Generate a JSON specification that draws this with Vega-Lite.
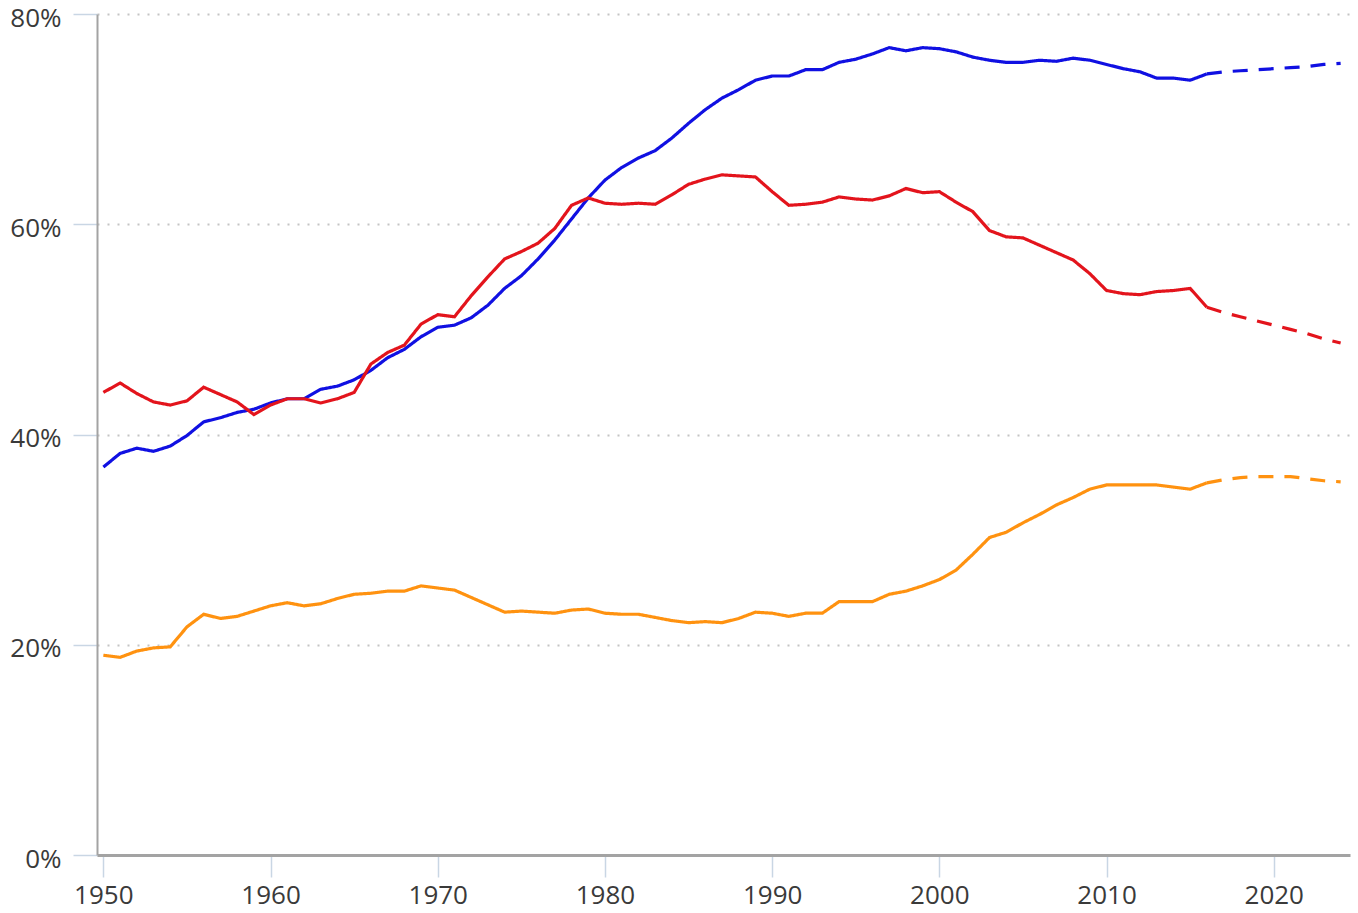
{
  "$schema": "https://vega.github.io/schema/vega-lite/v6.json",
  "width": 1253,
  "height": 841,
  "autosize": {"type": "none"},
  "padding": {"left": 97, "top": 14, "right": 8, "bottom": 58},
  "background": "white",
  "config": {
    "view": {"stroke": null},
    "font": "Open Sans",
    "axis": {"labelFont": "Open Sans", "labelFontSize": 26, "labelColor": "#3a3a3a"}
  },
  "data": {
    "values": [
      {"year": 1950, "part": "actual", "blue": 36.9, "red": 44.0, "orange": 19.0},
      {"year": 1951, "part": "actual", "blue": 38.2, "red": 44.9, "orange": 18.8},
      {"year": 1952, "part": "actual", "blue": 38.7, "red": 43.9, "orange": 19.4},
      {"year": 1953, "part": "actual", "blue": 38.4, "red": 43.1, "orange": 19.7},
      {"year": 1954, "part": "actual", "blue": 38.9, "red": 42.8, "orange": 19.8},
      {"year": 1955, "part": "actual", "blue": 39.9, "red": 43.2, "orange": 21.7},
      {"year": 1956, "part": "actual", "blue": 41.2, "red": 44.5, "orange": 22.9},
      {"year": 1957, "part": "actual", "blue": 41.6, "red": 43.8, "orange": 22.5},
      {"year": 1958, "part": "actual", "blue": 42.1, "red": 43.1, "orange": 22.7},
      {"year": 1959, "part": "actual", "blue": 42.4, "red": 41.9, "orange": 23.2},
      {"year": 1960, "part": "actual", "blue": 43.0, "red": 42.8, "orange": 23.7},
      {"year": 1961, "part": "actual", "blue": 43.4, "red": 43.4, "orange": 24.0},
      {"year": 1962, "part": "actual", "blue": 43.4, "red": 43.4, "orange": 23.7},
      {"year": 1963, "part": "actual", "blue": 44.3, "red": 43.0, "orange": 23.9},
      {"year": 1964, "part": "actual", "blue": 44.6, "red": 43.4, "orange": 24.4},
      {"year": 1965, "part": "actual", "blue": 45.2, "red": 44.0, "orange": 24.8},
      {"year": 1966, "part": "actual", "blue": 46.1, "red": 46.7, "orange": 24.9},
      {"year": 1967, "part": "actual", "blue": 47.3, "red": 47.8, "orange": 25.1},
      {"year": 1968, "part": "actual", "blue": 48.1, "red": 48.5, "orange": 25.1},
      {"year": 1969, "part": "actual", "blue": 49.3, "red": 50.5, "orange": 25.6},
      {"year": 1970, "part": "actual", "blue": 50.2, "red": 51.4, "orange": 25.4},
      {"year": 1971, "part": "actual", "blue": 50.4, "red": 51.2, "orange": 25.2},
      {"year": 1972, "part": "actual", "blue": 51.1, "red": 53.2, "orange": 24.5},
      {"year": 1973, "part": "actual", "blue": 52.3, "red": 55.0, "orange": 23.8},
      {"year": 1974, "part": "actual", "blue": 53.9, "red": 56.7, "orange": 23.1},
      {"year": 1975, "part": "actual", "blue": 55.1, "red": 57.4, "orange": 23.2},
      {"year": 1976, "part": "actual", "blue": 56.7, "red": 58.2, "orange": 23.1},
      {"year": 1977, "part": "actual", "blue": 58.5, "red": 59.6, "orange": 23.0},
      {"year": 1978, "part": "actual", "blue": 60.5, "red": 61.8, "orange": 23.3},
      {"year": 1979, "part": "actual", "blue": 62.5, "red": 62.5, "orange": 23.4},
      {"year": 1980, "part": "actual", "blue": 64.2, "red": 62.0, "orange": 23.0},
      {"year": 1981, "part": "actual", "blue": 65.4, "red": 61.9, "orange": 22.9},
      {"year": 1982, "part": "actual", "blue": 66.3, "red": 62.0, "orange": 22.9},
      {"year": 1983, "part": "actual", "blue": 67.0, "red": 61.9, "orange": 22.6},
      {"year": 1984, "part": "actual", "blue": 68.2, "red": 62.8, "orange": 22.3},
      {"year": 1985, "part": "actual", "blue": 69.6, "red": 63.8, "orange": 22.1},
      {"year": 1986, "part": "actual", "blue": 70.9, "red": 64.3, "orange": 22.2},
      {"year": 1987, "part": "actual", "blue": 72.0, "red": 64.7, "orange": 22.1},
      {"year": 1988, "part": "actual", "blue": 72.8, "red": 64.6, "orange": 22.5},
      {"year": 1989, "part": "actual", "blue": 73.7, "red": 64.5, "orange": 23.1},
      {"year": 1990, "part": "actual", "blue": 74.1, "red": 63.1, "orange": 23.0},
      {"year": 1991, "part": "actual", "blue": 74.1, "red": 61.8, "orange": 22.7},
      {"year": 1992, "part": "actual", "blue": 74.7, "red": 61.9, "orange": 23.0},
      {"year": 1993, "part": "actual", "blue": 74.7, "red": 62.1, "orange": 23.0},
      {"year": 1994, "part": "actual", "blue": 75.4, "red": 62.6, "orange": 24.1},
      {"year": 1995, "part": "actual", "blue": 75.7, "red": 62.4, "orange": 24.1},
      {"year": 1996, "part": "actual", "blue": 76.2, "red": 62.3, "orange": 24.1},
      {"year": 1997, "part": "actual", "blue": 76.8, "red": 62.7, "orange": 24.8},
      {"year": 1998, "part": "actual", "blue": 76.5, "red": 63.4, "orange": 25.1},
      {"year": 1999, "part": "actual", "blue": 76.8, "red": 63.0, "orange": 25.6},
      {"year": 2000, "part": "actual", "blue": 76.7, "red": 63.1, "orange": 26.2},
      {"year": 2001, "part": "actual", "blue": 76.4, "red": 62.1, "orange": 27.1},
      {"year": 2002, "part": "actual", "blue": 75.9, "red": 61.2, "orange": 28.6},
      {"year": 2003, "part": "actual", "blue": 75.6, "red": 59.4, "orange": 30.2},
      {"year": 2004, "part": "actual", "blue": 75.4, "red": 58.8, "orange": 30.7},
      {"year": 2005, "part": "actual", "blue": 75.4, "red": 58.7, "orange": 31.6},
      {"year": 2006, "part": "actual", "blue": 75.6, "red": 58.0, "orange": 32.4},
      {"year": 2007, "part": "actual", "blue": 75.5, "red": 57.3, "orange": 33.3},
      {"year": 2008, "part": "actual", "blue": 75.8, "red": 56.6, "orange": 34.0},
      {"year": 2009, "part": "actual", "blue": 75.6, "red": 55.3, "orange": 34.8},
      {"year": 2010, "part": "actual", "blue": 75.2, "red": 53.7, "orange": 35.2},
      {"year": 2011, "part": "actual", "blue": 74.8, "red": 53.4, "orange": 35.2},
      {"year": 2012, "part": "actual", "blue": 74.5, "red": 53.3, "orange": 35.2},
      {"year": 2013, "part": "actual", "blue": 73.9, "red": 53.6, "orange": 35.2},
      {"year": 2014, "part": "actual", "blue": 73.9, "red": 53.7, "orange": 35.0},
      {"year": 2015, "part": "actual", "blue": 73.7, "red": 53.9, "orange": 34.8},
      {"year": 2016, "part": "actual", "blue": 74.3, "red": 52.1, "orange": 35.4},
      {"year": 2016, "part": "projection", "blue": 74.3, "red": 52.1, "orange": 35.4},
      {"year": 2017, "part": "projection", "blue": 74.5, "red": 51.6, "orange": 35.7},
      {"year": 2018, "part": "projection", "blue": 74.6, "red": 51.2, "orange": 35.9},
      {"year": 2019, "part": "projection", "blue": 74.7, "red": 50.8, "orange": 36.0},
      {"year": 2020, "part": "projection", "blue": 74.8, "red": 50.4, "orange": 36.0},
      {"year": 2021, "part": "projection", "blue": 74.9, "red": 50.0, "orange": 36.0},
      {"year": 2022, "part": "projection", "blue": 75.0, "red": 49.6, "orange": 35.8},
      {"year": 2023, "part": "projection", "blue": 75.2, "red": 49.1, "orange": 35.6},
      {"year": 2024, "part": "projection", "blue": 75.3, "red": 48.7, "orange": 35.5}
    ]
  },
  "transform": [{"fold": ["blue", "red", "orange"], "as": ["series", "value"]}],
  "mark": {"type": "line", "strokeWidth": 3.2, "clip": true},
  "encoding": {
    "x": {
      "field": "year",
      "type": "quantitative",
      "scale": {"domain": [1949.62, 2024.56], "nice": false, "zero": false},
      "axis": {
        "title": null,
        "values": [1950, 1960, 1970, 1980, 1990, 2000, 2010, 2020],
        "format": "d",
        "grid": false,
        "domain": true,
        "domainColor": "#a3a3a3",
        "domainWidth": 3,
        "ticks": true,
        "tickColor": "#c9d6e4",
        "tickWidth": 1.5,
        "tickSize": 22,
        "labelPadding": 5
      }
    },
    "y": {
      "field": "value",
      "type": "quantitative",
      "scale": {"domain": [0, 80], "nice": false},
      "axis": {
        "title": null,
        "values": [0, 20, 40, 60, 80],
        "labelExpr": "datum.value + '%'",
        "grid": true,
        "gridColor": "#c4c4c4",
        "gridDash": [2, 8],
        "gridWidth": 2,
        "domain": true,
        "domainColor": "#a3a3a3",
        "domainWidth": 2,
        "ticks": true,
        "tickColor": "#c9d6e4",
        "tickWidth": 1.5,
        "tickSize": 24,
        "labelPadding": 12,
        "labelOffset": 4
      }
    },
    "color": {
      "field": "series",
      "type": "nominal",
      "scale": {"domain": ["blue", "red", "orange"], "range": ["#1010e2", "#e3141c", "#ff9210"]},
      "legend": null
    },
    "strokeDash": {
      "field": "part",
      "type": "nominal",
      "scale": {"domain": ["actual", "projection"], "range": [[1, 0], [15, 11]]},
      "legend": null
    }
  }
}
